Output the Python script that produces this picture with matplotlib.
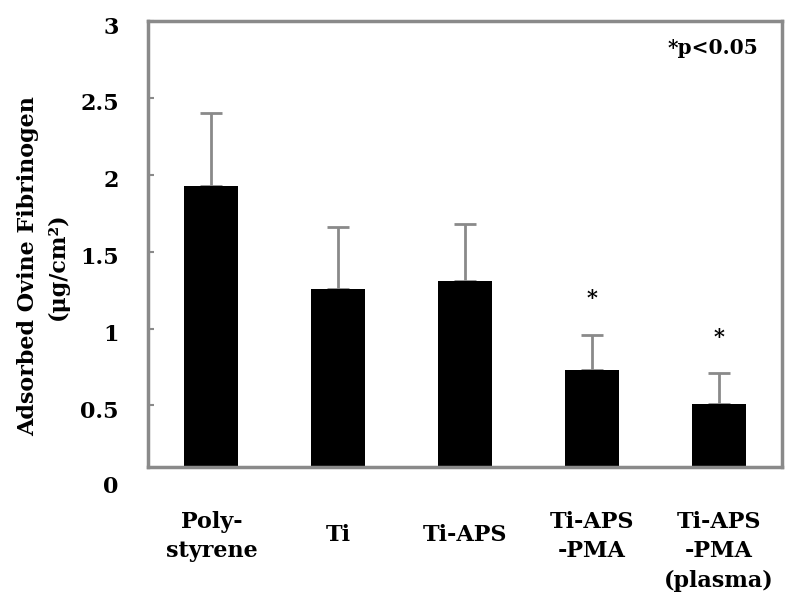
import matplotlib
matplotlib.use("Agg")
import matplotlib.pyplot as plt
import matplotlib.transforms as mtransforms
import numpy as np

# data
categories = ["Poly-\nstyrene", "Ti", "Ti-APS", "Ti-APS\n-PMA", "Ti-APS\n-PMA\n(plasma)"]
means = [1.93, 1.26, 1.31, 0.73, 0.51]
sds = [0.47, 0.40, 0.37, 0.23, 0.20]
significant = [False, False, False, True, True]
yticks = [0.5, 1, 1.5, 2, 2.5, 3]
ytick_labels = ["0.5", "1", "1.5", "2", "2.5", "3"]

plt.rcParams['font.family'] = 'DejaVu Serif'
plt.rcParams['font.weight'] = 'bold'
gray = '#8a8a8a'
fs = 16

fig = plt.figure(figsize=(8, 6.01), dpi=100)
ax = fig.add_axes([0.185, 0.223, 0.7925, 0.742])

x = np.arange(len(categories))
ax.bar(x, means, width=0.425, color='black', zorder=2)
ax.errorbar(x, means, yerr=[np.zeros(len(sds)), sds], fmt='none', ecolor=gray,
            elinewidth=2, capsize=8, capthick=2, zorder=1)

ax.set_xlim(-0.5, len(categories) - 0.5)
ax.set_ylim(0.1, 3)
ax.set_yticks(yticks)
ax.set_yticklabels(ytick_labels, fontsize=fs, fontweight='bold')
ax.set_xticks([])
ax.tick_params(axis='y', direction='in', length=4, width=1.5, color=gray, pad=21)
shift = mtransforms.ScaledTranslation(0, -4 / 100, fig.dpi_scale_trans)
for lbl in ax.get_yticklabels():
    lbl.set_transform(lbl.get_transform() + shift)
for s in ax.spines.values():
    s.set_color(gray)
    s.set_linewidth(2.5)

# the "0" label sits below the frame bottom in the original
ax.annotate("0", xy=(0, 0), xycoords=ax.get_yaxis_transform(), xytext=(-21, -3),
            textcoords='offset points', ha='right', va='center',
            fontsize=fs, fontweight='bold', annotation_clip=False)

# category labels
trans = ax.get_xaxis_transform()
for i, lab in enumerate(categories):
    if "\n" in lab:
        ax.text(i, -0.098, lab, transform=trans, ha='center', va='top',
                fontsize=fs, fontweight='bold', linespacing=1.45)
    else:
        ax.text(i, -0.152, lab, transform=trans, ha='center', va='center',
                fontsize=fs, fontweight='bold')

# significance stars
for i, (m, s, sig) in enumerate(zip(means, sds, significant)):
    if sig:
        ax.annotate("*", xy=(i, m + s), xytext=(0, 22), textcoords='offset points',
                    ha='center', va='baseline', fontsize=15, fontweight='bold')

ax.text(0.962, 0.939, "*p<0.05", transform=ax.transAxes, ha='right', va='center',
        fontsize=14.5, fontweight='bold')

ax.set_ylabel("Adsorbed Ovine Fibrinogen\n(μg/cm²)", fontsize=fs, fontweight='bold',
              ha='center', va='center', linespacing=1.5)
ax.yaxis.set_label_coords(-0.1656, 0.45)

fig.savefig("out.png", dpi=100)
